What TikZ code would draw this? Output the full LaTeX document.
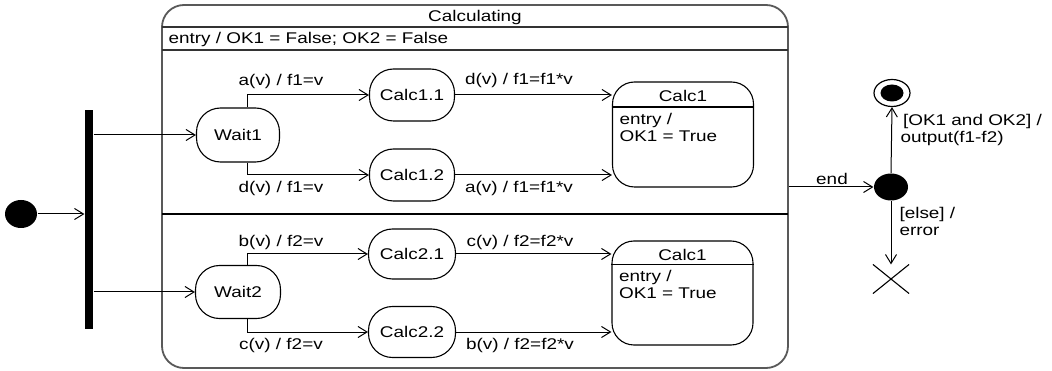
\documentclass[tikz,border=0pt]{standalone}
\usepackage{fontspec}
\setmainfont{Liberation Sans}[FakeStretch=1.22]
\usetikzlibrary{arrows.meta,shapes.geometric,shapes.misc,calc}
\begin{document}
\begin{tikzpicture}[x=1pt,y=-1pt,
  font=\fontsize{15.5}{17}\selectfont,
  line width=1.1pt,
  >={Straight Barb[length=9pt,width=11pt,line width=1pt]},
  stbox/.style={draw, rounded corners=24pt, minimum width=85pt, minimum height=52pt, inner sep=0pt},
  bigbox/.style={draw, rounded corners=22pt, minimum width=141pt, minimum height=105pt, inner sep=0pt},
  tr/.style={->, line width=1pt},
  lbl/.style={inner sep=0pt},
  dot/.style={ellipse, fill=black, inner sep=0pt}]
\fill[white] (0,0) rectangle (1052,371);
\useasboundingbox (0,0) rectangle (1052,371);

% composite state
\node[draw=black!65, line width=1.8pt, rounded corners=22pt, minimum width=626pt, minimum height=363pt, inner sep=0pt] (comp) at (475,186.5) {};
\node[lbl] (ctitle) at (475,17) {Calculating};
\draw[black!80] (162,27) -- (788,27);
\node[lbl, anchor=west] (centry) at (168,39.5) {entry / OK1 = False; OK2 = False};
\draw[black!80] (162,50) -- (788,50);
\draw (162,214) -- (788,214);

% initial and fork
\node[dot, minimum width=32pt, minimum height=28pt] (init) at (21,214) {};
\node[fill=black, minimum width=8pt, minimum height=219pt, inner sep=0pt] (bar) at (89,219.5) {};
\draw[tr] (init.east) -- (init -| bar.west);

% region 1
\node[stbox, minimum width=83pt, minimum height=54pt] (w1) at (238,135) {Wait1};
\node[stbox] (c11) at (412,95) {Calc1.1};
\node[stbox] (c12) at (412,175) {Calc1.2};
\node[bigbox] (ca) at (683,134.5) {};
\node[lbl] (cat) at (683,96) {Calc1};
\draw (ca.west |- 0,107) -- (ca.east |- 0,107);
\node[lbl, anchor=north west, align=left] (cae) at (619,113) {entry /\\OK1 = True};

\draw[tr] (w1 -| bar.east) -- (w1.west);
\draw[tr] ([xshift=9pt]w1.north) |- (c11.west);
\draw[tr] ([xshift=9pt]w1.south) |- (c12.west);
\draw[tr] (c11.east) -- (c11.east -| ca.west);
\draw[tr] (c12.east) -- (c12.east -| ca.west);
\node[lbl] (l1) at (281,81) {a(v) / f1=v};
\node[lbl] (l2) at (281,188) {d(v) / f1=v};
\node[lbl] (l3) at (519,80) {d(v) / f1=f1*v};
\node[lbl] (l4) at (519,188) {a(v) / f1=f1*v};

% region 2
\node[stbox, minimum height=53pt] (w2) at (238,292) {Wait2};
\node[stbox, minimum width=87pt, minimum height=50pt] (c21) at (412,254) {Calc2.1};
\node[stbox, minimum width=87pt, minimum height=51pt] (c22) at (412,332) {Calc2.2};
\node[bigbox, minimum height=104pt] (cb) at (682.5,293) {};
\node[lbl] (cbt) at (682.5,255) {Calc1};
\draw (cb.west |- 0,264.5) -- (cb.east |- 0,264.5);
\node[lbl, anchor=north west, align=left] (cbe) at (618.5,270) {entry /\\OK1 = True};

\draw[tr] (w2 -| bar.east) -- (w2.west);
\draw[tr] ([xshift=9pt]w2.north) |- (c21.west);
\draw[tr] ([xshift=9pt]w2.south) |- (c22.west);
\draw[tr] (c21.east) -- (c21.east -| cb.west);
\draw[tr] (c22.east) -- (c22.east -| cb.west);
\node[lbl] (l5) at (281,242) {b(v) / f2=v};
\node[lbl] (l6) at (281,345) {c(v) / f2=v};
\node[lbl] (l7) at (520,242) {c(v) / f2=f2*v};
\node[lbl] (l8) at (520,345) {b(v) / f2=f2*v};

% right part
\node[dot, minimum width=34pt, minimum height=27pt] (choice) at (891,187) {};
\node[ellipse, draw, fill=white, line width=1.2pt, minimum width=36pt, minimum height=27pt, inner sep=0pt] (fin) at (892,93) {};
\node[dot, minimum width=23pt, minimum height=17pt] (fini) at (fin) {};
\node[cross out, draw, line width=1.1pt, minimum width=35pt, minimum height=28pt, inner sep=0pt] (term) at (891,279) {};

\draw[tr] (choice -| comp.east) -- (choice.west);
\node[lbl] (lend) at (832,179) {end};
\draw[tr] (choice.north) -- (fin.south);
\draw[tr] (choice.south) -- (term.north);
\node[lbl, anchor=north west, align=left] (lok) at (900,114) {\,[OK1 and OK2] /\\output(f1-f2)};
\node[lbl, anchor=north west, align=left] (lel) at (899,207) {[else] /\\error};
\end{tikzpicture}
\end{document}
